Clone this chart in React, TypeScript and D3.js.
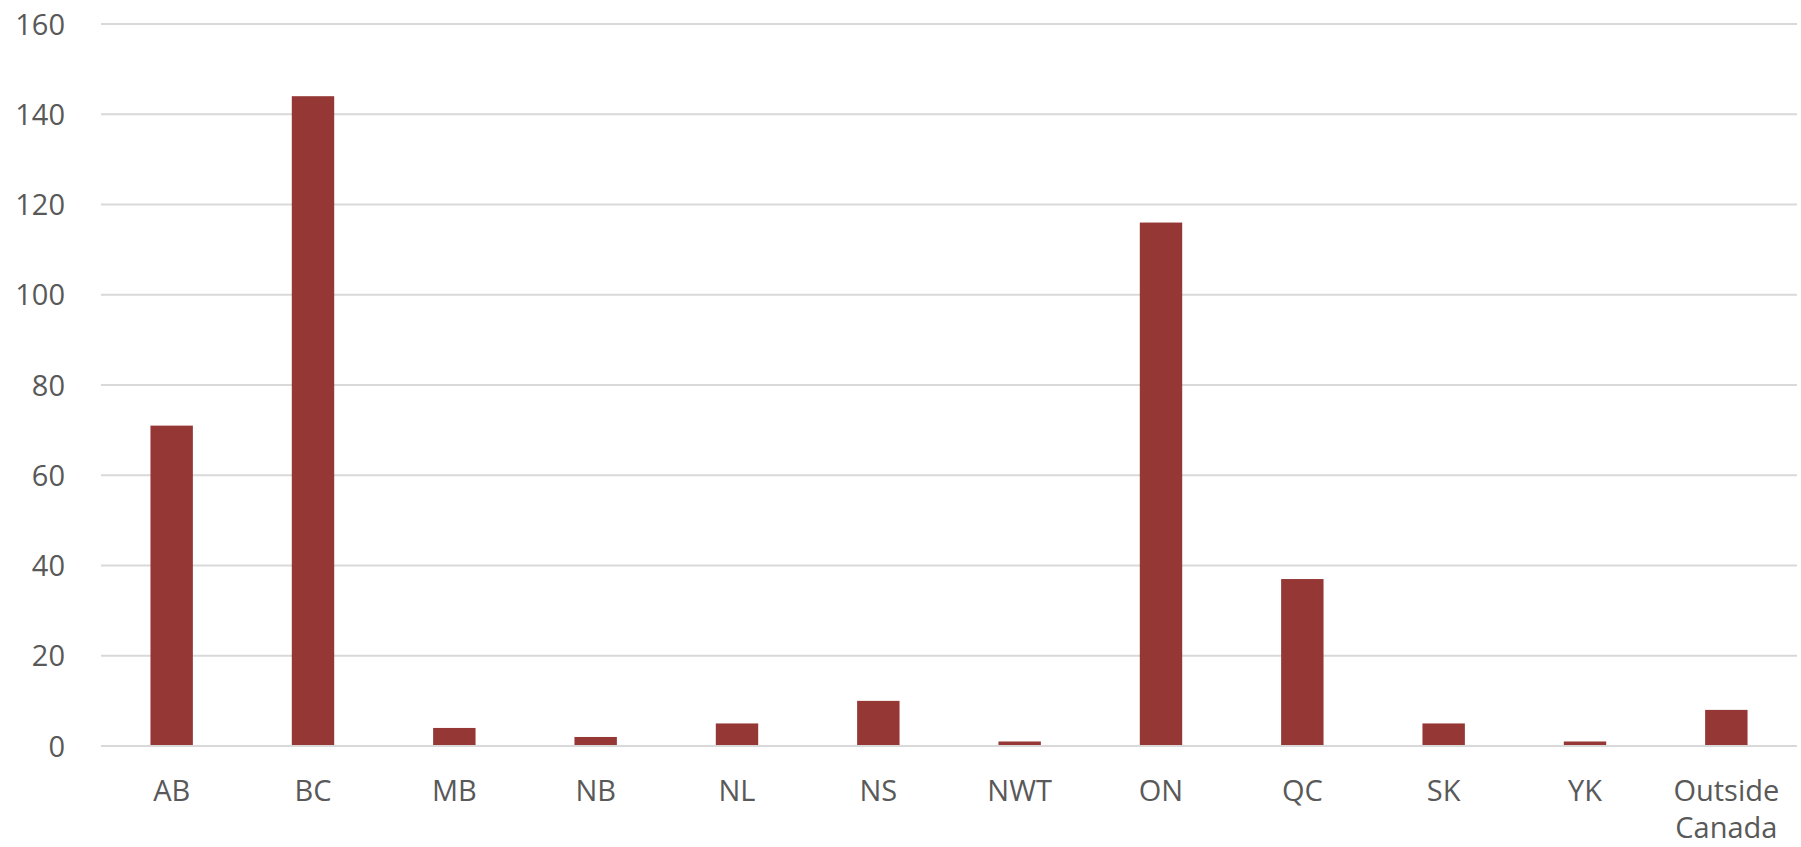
import React, { useEffect, useRef } from 'react';
import * as d3 from 'd3';

const width = 1801
const height = 847
const margin = { top: 24, right: 4, bottom: 101, left: 101 }

// data
const provinces = ['AB', 'BC', 'MB', 'NB', 'NL', 'NS', 'NWT', 'ON', 'QC', 'SK', 'YK', 'Outside Canada']
const counts = [71, 144, 4, 2, 5, 10, 1, 116, 37, 5, 1, 8]
const yTicks = [0, 20, 40, 60, 80, 100, 120, 140, 160]

const styles = {
  bar: { fill: '#953735' },
  grid: { stroke: '#d9d9d9' },
  text: { fill: '#595959', fontSize: '29px', fontFamily: '"Open Sans", "Liberation Sans", sans-serif' },
}

export default function App() {
  const ref = useRef<SVGSVGElement | null>(null)

  useEffect(() => {
    document.body.style.margin = '0'
    const svg = d3.select(ref.current)
    svg.selectAll('*').remove()

    const x = d3
      .scaleBand()
      .domain(provinces)
      .range([margin.left, width - margin.right])
      .paddingInner(0.7)
      .paddingOuter(0.35)

    const y = d3
      .scaleLinear()
      .domain([0, 160])
      .range([height - margin.bottom, margin.top])

    // gridlines
    svg
      .append('g')
      .selectAll('line')
      .data(yTicks)
      .enter()
      .append('line')
      .attr('x1', margin.left)
      .attr('x2', width - margin.right)
      .attr('y1', d => y(d))
      .attr('y2', d => y(d))
      .style('stroke', styles.grid.stroke)
      .style('stroke-width', 2)

    // y labels
    svg
      .append('g')
      .selectAll('text')
      .data(yTicks)
      .enter()
      .append('text')
      .attr('x', 65)
      .attr('y', d => y(d) + 10.5)
      .attr('text-anchor', 'end')
      .style('fill', styles.text.fill)
      .style('font-size', styles.text.fontSize)
      .style('font-family', styles.text.fontFamily)
      .text(d => d)

    // bars
    svg
      .append('g')
      .selectAll('rect')
      .data(provinces)
      .enter()
      .append('rect')
      .attr('x', d => x(d) as number)
      .attr('width', x.bandwidth())
      .attr('y', (d, i) => y(counts[i]))
      .attr('height', (d, i) => y(0) - y(counts[i]) - 1)
      .style('fill', styles.bar.fill)

    // x labels, wrapped on spaces
    const xl = svg
      .append('g')
      .selectAll('text')
      .data(provinces)
      .enter()
      .append('text')
      .attr('text-anchor', 'middle')
      .style('fill', styles.text.fill)
      .style('font-size', styles.text.fontSize)
      .style('font-family', styles.text.fontFamily)

    xl.each(function (d) {
      const cx = (x(d) as number) + x.bandwidth() / 2
      d.split(' ').forEach((word, k) => {
        d3.select(this)
          .append('tspan')
          .attr('x', cx)
          .attr('y', 801 + k * 37)
          .text(word)
      })
    })
  }, [])

  return <svg ref={ref} width={width} height={height} style={{ display: 'block', background: '#fff' }} />
}
